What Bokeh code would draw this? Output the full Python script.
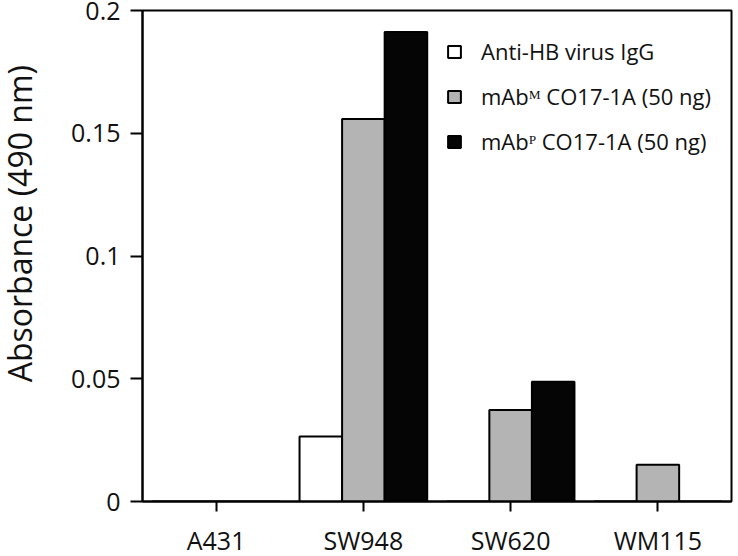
from bokeh.plotting import figure
from bokeh.layouts import row
from bokeh.models import (FactorRange, Range1d, Legend, LegendItem,
                          FixedTicker, ColumnDataSource)
from bokeh.transform import dodge
from bokeh.embed import file_html
from bokeh.resources import INLINE
from bokeh.core.properties import value
import math

# ---- data ----
cell_lines = ["A431", "SW948", "SW620", "WM115"]
series_names = ["Anti-HB virus IgG", "mAb\u1d39 CO17-1A (50 ng)", "mAb\u1d3e CO17-1A (50 ng)"]
anti_hb = [0.0, 0.0265, 0.0, 0.0]
mab_m = [0.0, 0.1558, 0.0373, 0.0150]
mab_p = [0.0, 0.1912, 0.0488, 0.0]
y_ticks = [0, 0.05, 0.1, 0.15, 0.2]
y_tick_labels = ["0", "0.05", "0.1", "0.15", "0.2"]
y_title = ["Absorbance (490 nm)"]

FONT = "Open Sans"
INK = "#111111"
H = 554

# ---- narrow strip holding the vertical axis title ----
t = figure(width=40, height=H, x_range=Range1d(0, 1), y_range=Range1d(0, 1),
           min_border=0, output_backend="svg", toolbar_location=None,
           outline_line_color=None)
t.axis.visible = False
t.grid.visible = False
t.text(x=[0.47], y=[1 - 243 / H], text=y_title, angle=math.pi / 2,
       text_align="center", text_baseline="middle",
       text_font=value(FONT), text_font_size="32px", text_color=INK)

# ---- main chart ----
p = figure(
    x_range=FactorRange(factors=cell_lines, range_padding=0),
    y_range=Range1d(0, 0.2),
    frame_width=589, frame_height=491,
    min_border_left=102, min_border_right=5, min_border_top=10, min_border_bottom=50,
    output_backend="svg", toolbar_location=None,
    background_fill_color="white", border_fill_color="white",
)

src = ColumnDataSource(dict(x=cell_lines, a=anti_hb, m=mab_m, pp=mab_p))

bw = 0.289
r1 = p.vbar(x=dodge("x", -bw, range=p.x_range), top="a", width=bw, source=src,
            fill_color="white", line_color="black", line_width=2)
r2 = p.vbar(x=dodge("x", 0, range=p.x_range), top="m", width=bw, source=src,
            fill_color="#b4b4b4", line_color="black", line_width=2)
r3 = p.vbar(x=dodge("x", bw, range=p.x_range), top="pp", width=bw, source=src,
            fill_color="#050505", line_color="black", line_width=2)

legend = Legend(
    items=[LegendItem(label=series_names[0], renderers=[r1]),
           LegendItem(label=series_names[1], renderers=[r2]),
           LegendItem(label=series_names[2], renderers=[r3])],
    location=(304, 345), orientation="vertical",
    glyph_width=16, glyph_height=15, label_standoff=19, spacing=15,
    padding=0, margin=0, border_line_color=None, background_fill_alpha=0,
    label_text_font=FONT, label_text_font_size="22px", label_text_color=INK,
    label_height=26,
)
p.add_layout(legend)

p.xgrid.visible = False
p.ygrid.visible = False
p.outline_line_color = "black"
p.outline_line_width = 2
p.outline_line_alpha = 1

for ax in (p.xaxis[0], p.yaxis[0]):
    ax.axis_line_width = 2
    ax.axis_line_color = "black"
    ax.major_tick_line_width = 2
    ax.major_tick_line_color = "black"
    ax.major_tick_in = 0
    ax.minor_tick_line_color = None
    ax.major_label_text_font = FONT
    ax.major_label_text_color = INK

p.xaxis.major_label_text_font_size = "25px"
p.yaxis.major_label_text_font_size = "25px"
p.xaxis.major_tick_out = 10
p.xaxis.major_label_standoff = 11
p.yaxis.major_tick_out = 12
p.yaxis.major_label_standoff = 10
p.yaxis.ticker = FixedTicker(ticks=y_ticks)
p.yaxis.major_label_overrides = {t_: l for t_, l in zip(y_ticks, y_tick_labels)}

layout = row(t, p)
open("out.html", "w").write(file_html(layout, INLINE))
